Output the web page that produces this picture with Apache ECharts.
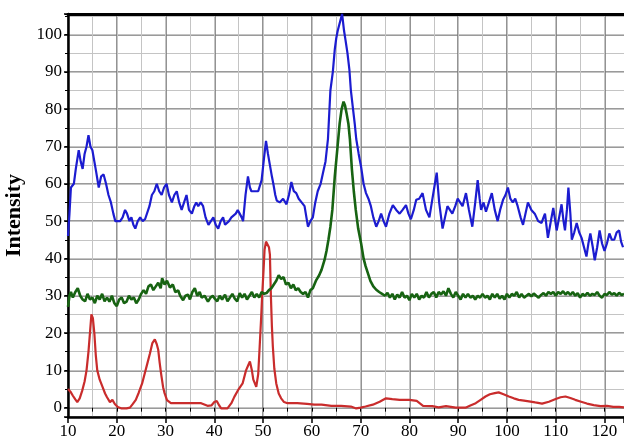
<!DOCTYPE html>
<html><head><meta charset="utf-8">
<script src="https://cdn.jsdelivr.net/npm/echarts@6/dist/echarts.min.js"></script>
<style>html,body{margin:0;padding:0;background:#fff}#c{width:624px;height:441px}</style>
</head><body><div id="c"></div>
<script>
// x range / tick labels
const xMin = 10, xMax = 124;
const yMin = -2.5, yMax = 105.5;
const yName = 'Intensity';

// blue pattern (top)
const blue = [
[10.0,46],[10.3,52],[10.6,59],[11.2,60],[11.6,64],[12.2,69],[12.6,66],[13.0,64],[13.4,68],[13.8,70],
[14.2,73],[14.6,70],[15.0,69],[15.4,66],[15.8,63],[16.3,59],[16.8,62],[17.3,62.5],[17.8,60],[18.3,57],
[18.8,55],[19.3,52],[19.7,50],[20.2,50],[20.7,50],[21.2,51],[21.7,53],[22.1,52],[22.6,50],[23.0,51],
[23.4,49],[23.8,48],[24.3,50],[24.8,51],[25.3,50],[25.8,50.5],[26.2,51],[26.7,54],[27.2,57],[27.7,58],
[28.2,60],[28.7,58],[29.2,57],[29.7,59],[30.2,60],[30.7,57],[31.3,55],[31.8,57],[32.3,58],[32.8,55],
[33.3,53],[33.8,55],[34.3,57],[34.8,53],[35.4,52],[35.9,54],[36.3,55],[36.7,54],[37.2,55],[37.7,54],
[38.2,51],[38.8,49],[39.3,50],[39.8,51],[40.3,49],[40.8,48],[41.3,50],[41.8,51],[42.2,49],[42.5,48.5],
[43.0,50],[43.5,51],[43.9,51],[44.4,52],[44.8,53],[45.2,52],[45.6,51],[45.9,50],[46.4,57],[46.9,62],
[47.3,59],[47.6,58],[48.3,58],[49.0,58],[49.7,61],[50.2,67],[50.6,71.5],[51.0,68],[51.4,65],[51.8,62],
[52.1,60],[52.5,57],[52.8,55.5],[53.4,55],[54.1,56],[54.8,54.5],[55.3,57],[55.8,60.5],[56.3,58],[56.8,57.5],
[57.3,56],[57.9,55],[58.5,54],[59.2,48.5],[59.7,50],[60.2,51],[60.7,55],[61.2,58],[61.8,60],[62.3,63],
[62.8,66],[63.3,72],[63.8,85],[64.3,90],[64.7,96],[65.0,99],[65.3,101],[65.7,103],[66.2,105.5],[66.6,101],
[66.9,98.5],[67.3,95],[67.7,90.5],[68.0,85],[68.4,80.5],[68.8,76],[69.1,72],[69.6,68],[70.1,64.5],[70.6,60],
[71.1,57.5],[71.6,56],[72.1,54],[72.6,51],[73.2,48.5],[73.7,50],[74.2,52],[74.7,50],[75.2,48.5],[75.9,52],
[76.6,54.3],[77.3,53],[78.0,52],[78.6,53],[79.3,54.3],[79.8,52],[80.3,50.5],[80.9,53],[81.4,55.7],[82.0,56],
[82.7,57.5],[83.0,58],[83.4,53],[84.1,51],[84.6,55],[85.1,59],[85.6,63],[86.1,55],[86.8,48],[87.3,51],
[87.8,54],[88.3,53],[88.8,52],[89.4,54],[89.9,56],[90.4,55],[90.9,54],[91.6,57.5],[92.2,53],[92.9,48.5],
[93.5,55],[94.0,61],[94.4,56],[94.7,53],[95.2,55],[95.7,52.5],[96.3,55],[96.9,57.5],[97.5,53],[98.1,50],
[98.6,53],[99.2,55.7],[99.7,57],[100.2,59],[100.7,56],[101.2,55],[101.7,56],[102.2,54],[102.8,51],[103.3,49],
[103.8,52],[104.3,55],[105.0,53],[105.7,52],[106.4,50],[107.1,49.5],[107.5,51],[107.8,52],[108.4,45.5],[109.0,50],
[109.5,53.5],[110.2,47.5],[110.7,51],[111.2,54.5],[111.6,50],[111.9,47.5],[112.3,53],[112.6,59],[113.0,52],[113.3,45],
[113.8,47],[114.3,49.5],[114.8,47],[115.3,45.5],[115.8,43],[116.3,40.5],[116.7,44],[117.1,46.7],[117.6,43],[118.0,39.5],
[118.5,43],[119.0,47.5],[119.5,44],[120.0,42],[120.5,44],[121.0,46.7],[121.5,45],[122.0,45],[122.5,47],[123.0,47.5],
[123.4,44.5],[123.8,43]
];

// green pattern (middle)
const green = [
[10.0,27],[10.3,30],[10.6,31],[11.0,29.5],[11.5,31],[12.0,32],[12.5,30],[13.0,29],[13.5,28.5],[14.0,30.5],
[14.5,29],[15.0,29.5],[15.5,28],[16.0,30],[16.5,29],[17.0,30.5],[17.5,28.5],[18.0,29.5],[18.5,28.4],[19.0,30],
[19.5,28],[20.0,27.2],[20.5,29],[21.0,29.5],[21.5,28],[22.0,28.4],[22.5,30],[23.0,29],[23.5,29.5],[24.0,28],
[24.5,29],[25.0,30.5],[25.5,31.5],[26.0,30.5],[26.5,32.5],[27.0,33],[27.5,31.5],[28.0,32.5],[28.5,33.5],[29.0,32],
[29.3,34.7],[29.8,33],[30.3,34],[30.9,32.2],[31.5,33],[32.0,31],[32.6,31.4],[33.0,30],[33.6,28.8],[34.1,30],
[34.6,30.3],[35.0,29],[35.5,31],[36.0,32],[36.5,30],[37.0,31],[37.4,29.5],[38.0,30],[38.7,28.4],[39.2,29.5],
[39.7,30],[40.1,29.2],[40.6,28.5],[41.1,30],[41.6,29],[42.2,30.3],[42.7,28.5],[43.2,29.5],[43.7,30.5],[44.2,29.2],
[44.7,28.5],[45.2,30.7],[45.7,29.5],[46.2,30.5],[46.7,29],[47.2,30],[47.7,31],[48.2,29.5],[48.7,30.5],[49.2,29.5],
[49.7,31],[50.2,30.5],[50.7,30.7],[51.2,31.5],[51.7,32],[52.2,33],[52.7,34],[53.2,35.5],[53.7,34.5],[54.2,35],
[54.7,33],[55.2,33.5],[55.7,32],[56.2,33],[56.7,31.5],[57.2,32],[57.7,31],[58.2,30.5],[58.7,31],[59.2,29.5],
[59.7,31.5],[60.2,32],[60.9,34.2],[61.5,35.5],[62.0,37],[62.6,39.6],[63.0,42],[63.4,45],[63.8,48.5],[64.2,53],
[64.7,61.9],[65.2,69],[65.7,76.2],[66.1,80],[66.5,82],[66.8,81],[67.1,79],[67.5,76],[67.8,72],[68.2,64],
[68.6,58],[69.0,53],[69.5,48],[70.1,44],[70.6,40],[71.0,38],[71.5,36],[72.0,34],[72.6,32.5],[73.2,31.6],
[73.8,31],[74.4,30.5],[75.0,30],[75.5,30.8],[76.0,29.5],[76.5,30.5],[77.0,29],[77.5,30.3],[78.0,29.5],[78.5,31],
[79.0,29.5],[79.5,30],[80.0,28.8],[80.5,30.5],[81.0,29.5],[81.5,30.5],[82.0,29],[82.5,30],[83.0,29.5],[83.5,31],
[84.0,29.5],[84.5,30.5],[85.0,31],[85.5,29.5],[86.0,31],[86.5,30.3],[87.0,31.2],[87.5,30],[88.0,32],[88.5,30.5],
[89.0,29.5],[89.5,31],[90.0,30],[90.5,29],[91.0,30.5],[91.5,29.5],[92.0,30.5],[92.5,29.5],[93.0,30],[93.5,29],
[94.0,30],[94.5,29.5],[95.0,30.5],[95.5,29.5],[96.0,30],[96.5,29],[97.0,30.5],[97.5,29.5],[98.0,30.5],[98.5,29.2],
[99.0,30],[99.5,29],[100.0,30.5],[100.5,29.5],[101.0,30.5],[101.5,30],[102.0,31],[102.5,29.5],[103.0,30.5],[103.5,29.5],
[104.0,30],[104.5,30.5],[105.0,29.8],[105.5,30.6],[106.0,30],[106.5,29.5],[107.0,30.2],[107.5,30.7],[108.0,30],[108.5,31],
[109.0,30.5],[109.5,31],[110.0,30],[110.5,31],[111.0,30.5],[111.5,31.2],[112.0,30.3],[112.5,31],[113.0,30.2],[113.5,31],
[114.0,30],[114.5,30.7],[115.0,29.5],[115.5,30.5],[116.0,30],[116.5,30.8],[117.0,30],[117.5,30.5],[118.0,30.2],[118.5,31],
[119.0,30],[119.5,29.5],[120.0,30.5],[120.5,30.2],[121.0,31],[121.5,30.3],[122.0,30.7],[122.5,30],[123.0,30.8],[123.5,30.2],
[124.0,30.5]
];

// red pattern (bottom)
const red = [
[10.0,5],[10.5,4.3],[11.0,3.2],[11.5,2.2],[11.9,1.5],[12.4,2.5],[12.9,4.5],[13.4,7],[13.8,10],[14.2,15],
[14.5,20],[14.8,25],[15.1,24],[15.4,20],[15.7,14],[16.0,10],[16.5,7.5],[17.1,5.5],[17.6,3.8],[18.0,2.8],
[18.6,1.5],[19.1,2.1],[19.6,1],[20.2,0.2],[21.0,-0.2],[22.0,-0.2],[22.7,0],[23.3,1],[23.9,2.1],[24.5,4],
[25.2,6.5],[25.8,9.5],[26.3,12],[26.8,14.5],[27.3,17.3],[27.8,18.3],[28.2,17],[28.5,15.5],[28.8,12],[29.1,9],
[29.5,5.5],[29.8,3.9],[30.3,2],[31.1,1.2],[32,1.2],[34,1.2],[36,1.2],[37.3,1.2],[38.6,0.5],[39.4,0.6],
[40.0,1.5],[40.5,1.8],[41.0,0.6],[41.4,-0.2],[42.7,-0.2],[43.5,1.2],[44.1,2.9],[45.0,5],[45.8,6.5],[46.5,10],
[47.0,11.5],[47.3,12.4],[47.7,10],[48.0,7.5],[48.6,5.6],[49.0,9],[49.3,16.4],[49.6,24],[49.8,29.8],[50.1,37],
[50.3,42.3],[50.6,44.5],[50.9,45],[51.2,43],[51.4,41],[51.6,30],[51.8,22],[52.0,16.4],[52.3,10.5],[52.7,6.5],
[53.2,3.8],[53.7,2.5],[54.3,1.5],[55.0,1.2],[57,1.2],[59,1],[60.5,0.8],[62,0.8],[64,0.5],[66,0.5],
[68,0.3],[69.1,-0.2],[70,0],[71,0.3],[72.5,0.8],[73.9,1.6],[75.2,2.5],[76.5,2.3],[78,2.1],[80,2.1],
[81.5,1.8],[82.8,0.5],[84.7,0.4],[86,0.1],[87.5,0.4],[89.5,0],[91.5,0],[92.5,0.6],[93.6,1.2],[94.6,2.1],
[95.6,3],[96.5,3.6],[97.5,3.9],[98.3,4.1],[99.3,3.6],[100.4,3],[101.4,2.5],[102.4,2.1],[103.5,1.9],[104.5,1.7],
[105.8,1.4],[107.2,1.1],[108.6,1.6],[110,2.3],[111,2.8],[112,3],[113,2.6],[114,2.1],[115.2,1.6],[116.4,1.1],
[117.8,0.7],[119.2,0.4],[120.5,0.5],[121.8,0.2],[123,0.2],[124,0.1]
];

const chart = echarts.init(document.getElementById('c'), null, {renderer: 'canvas'});
const serif = 'Liberation Serif';
const lbl10 = v => (v >= 0 && v % 10 === 0 && v <= 120) ? String(v) : '';

chart.setOption({
  animation: false,
  backgroundColor: '#ffffff',
  grid: {left: 68, right: 0, top: 14, bottom: 24, containLabel: false, outerBoundsMode: 'none'},
  xAxis: [
    { // major
      type: 'value', min: xMin, max: xMax, interval: 10, position: 'bottom',
      axisLine: {show: true, onZero: false, lineStyle: {color: '#000', width: 2.5}},
      axisTick: {show: true, length: 6, lineStyle: {color: '#000', width: 1.5}},
      axisLabel: {color: '#000', fontFamily: serif, fontSize: 17, margin: 6, formatter: lbl10},
      splitLine: {show: true, showMaxLine: false, lineStyle: {color: '#787878', width: 1.6}}
    },
    { // minor
      type: 'value', min: xMin, max: xMax, interval: 5, position: 'bottom',
      axisLine: {show: false},
      axisTick: {show: true, length: 4, lineStyle: {color: '#000', width: 1}},
      axisLabel: {show: false},
      splitLine: {show: true, showMaxLine: false, lineStyle: {color: '#c4c4c4', width: 1}}
    },
    { // top border
      type: 'value', min: xMin, max: xMax, position: 'top',
      axisLine: {show: true, onZero: false, lineStyle: {color: '#000', width: 3}},
      axisTick: {show: false}, axisLabel: {show: false}, splitLine: {show: false}
    }
  ],
  yAxis: [
    {
      type: 'value', min: yMin, max: yMax, splitNumber: 10, position: 'left',
      name: yName, nameLocation: 'middle', nameGap: 40,
      nameTextStyle: {color: '#000', fontFamily: serif, fontWeight: 'bold', fontSize: 22},
      axisLine: {show: true, onZero: false, lineStyle: {color: '#000', width: 2.5}},
      axisTick: {show: true, length: 4, lineStyle: {color: '#000', width: 1.5}},
      axisLabel: {color: '#000', fontFamily: serif, fontSize: 17, margin: 6, formatter: lbl10},
      splitLine: {show: true, lineStyle: {color: '#787878', width: 1.6}}
    },
    {
      type: 'value', min: yMin, max: yMax, splitNumber: 20, position: 'left',
      axisLine: {show: false},
      axisTick: {show: true, length: 3, lineStyle: {color: '#000', width: 1}},
      axisLabel: {show: false},
      splitLine: {show: true, lineStyle: {color: '#c4c4c4', width: 1}}
    }
  ],
  series: [
    {type: 'line', data: red, xAxisIndex: 0, yAxisIndex: 0, showSymbol: false, z: 3,
     lineStyle: {color: '#c92c2c', width: 2.2}},
    {type: 'line', data: green, xAxisIndex: 0, yAxisIndex: 0, showSymbol: false, z: 4,
     lineStyle: {color: '#176312', width: 2.6}},
    {type: 'line', data: blue, xAxisIndex: 0, yAxisIndex: 0, showSymbol: false, z: 5,
     lineStyle: {color: '#1c1cd0', width: 2.2}}
  ]
});
</script>
</body></html>
